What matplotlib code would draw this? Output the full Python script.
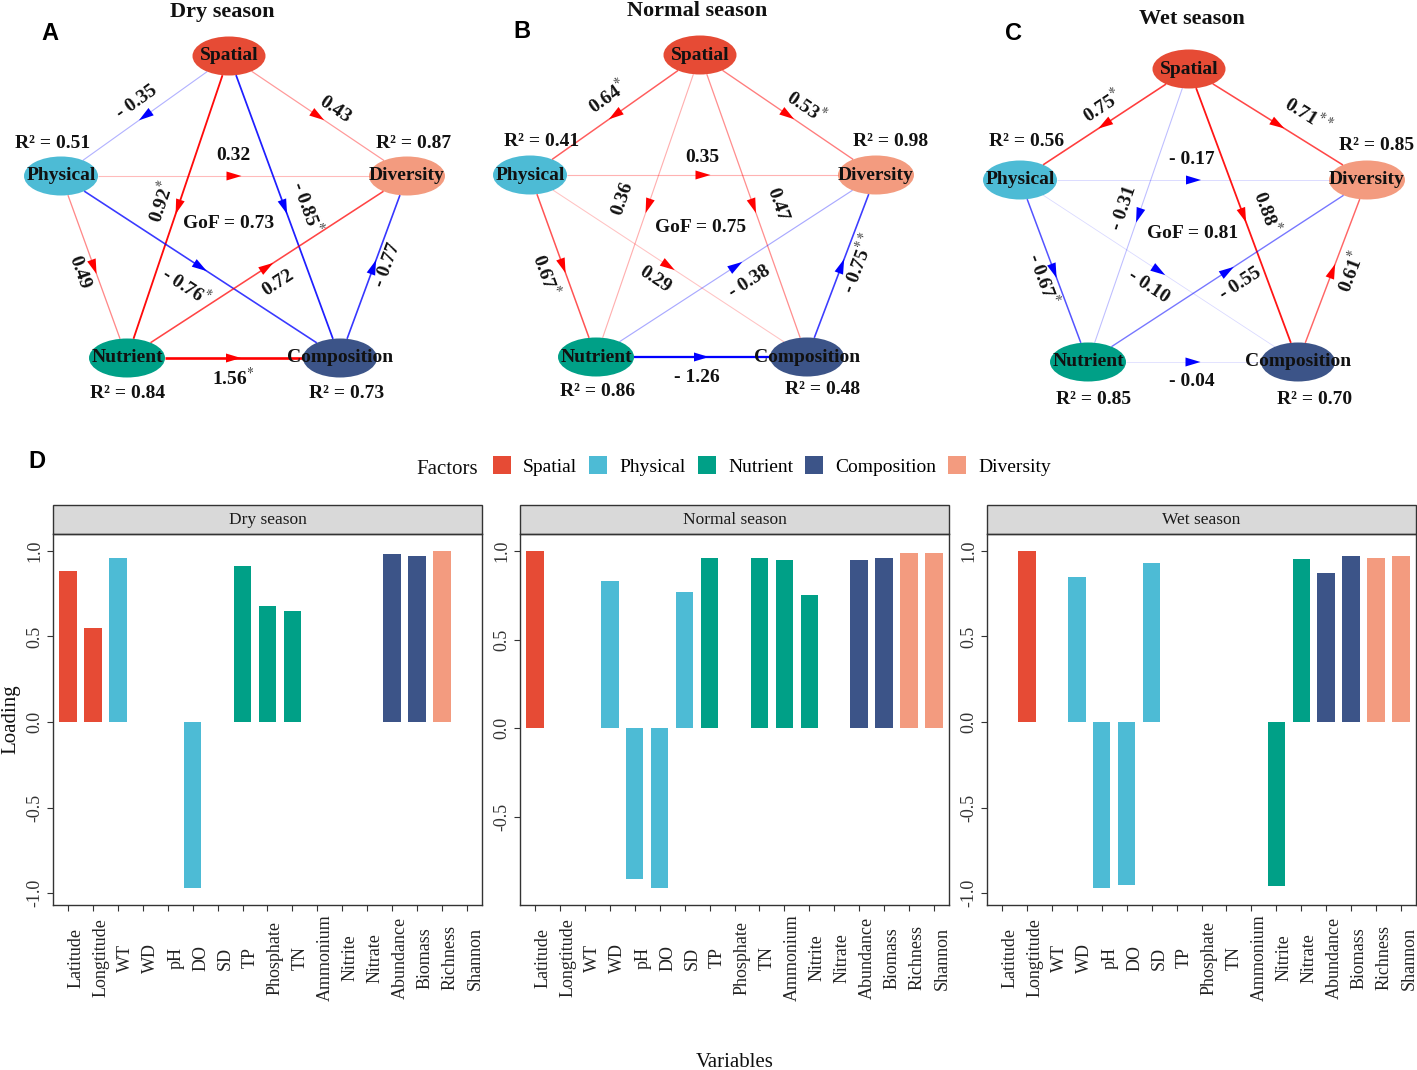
import numpy as np
import matplotlib
matplotlib.use('Agg')
import matplotlib.pyplot as plt
import matplotlib.transforms as mtransforms
from matplotlib.patches import Ellipse, Polygon, Rectangle, Patch
from matplotlib.ticker import MultipleLocator, FormatStrFormatter

plt.rcParams['font.family'] = 'Liberation Serif'
plt.rcParams['mathtext.fontset'] = 'stix'
plt.rcParams['axes.unicode_minus'] = False

W, H = 1417, 1070

# === Data ===
factor_names = ['Spatial', 'Physical', 'Nutrient', 'Composition', 'Diversity']
factor_colors = ['#E64B35', '#4DBBD5', '#00A087', '#3C5488', '#F39B7F']

variables = ['Latitude', 'Longtitude', 'WT', 'WD', 'pH', 'DO', 'SD', 'TP', 'Phosphate', 'TN',
             'Ammonium', 'Nitrite', 'Nitrate', 'Abundance', 'Biomass', 'Richness', 'Shannon']
var_factor = ['Spatial', 'Spatial', 'Physical', 'Physical', 'Physical', 'Physical', 'Physical',
              'Nutrient', 'Nutrient', 'Nutrient', 'Nutrient', 'Nutrient', 'Nutrient',
              'Composition', 'Composition', 'Diversity', 'Diversity']

nan = np.nan
dry_loading = [0.88, 0.55, 0.96, nan, nan, -0.97, nan, 0.91, 0.68, 0.65, nan, nan, nan, 0.98, 0.97, 1.00, nan]
normal_loading = [1.00, nan, nan, 0.83, -0.85, -0.90, 0.77, 0.96, nan, 0.96, 0.95, 0.75, nan, 0.95, 0.96, 0.99, 0.99]
wet_loading = [nan, 1.00, nan, 0.85, -0.97, -0.95, 0.93, nan, nan, nan, nan, -0.96, 0.95, 0.87, 0.97, 0.96, 0.97]

season_names = ['Dry season', 'Normal season', 'Wet season']

# path model (same edges in all seasons)
edges = [('Spatial', 'Physical'), ('Spatial', 'Diversity'), ('Physical', 'Diversity'),
         ('Spatial', 'Nutrient'), ('Spatial', 'Composition'), ('Physical', 'Nutrient'),
         ('Physical', 'Composition'), ('Nutrient', 'Diversity'), ('Composition', 'Diversity'),
         ('Nutrient', 'Composition')]
dry_coef = [-0.35, 0.43, 0.32, 0.92, -0.85, 0.49, -0.76, 0.72, -0.77, 1.56]
dry_sig = ['', '', '', '*', '*', '', '*', '', '', '*']
normal_coef = [0.64, 0.53, 0.35, 0.36, 0.47, 0.67, 0.29, -0.38, -0.75, -1.26]
normal_sig = ['*', '*', '', '', '', '*', '', '', '**', '']
wet_coef = [0.75, 0.71, -0.17, -0.31, 0.88, -0.67, -0.10, -0.55, 0.61, -0.04]
wet_sig = ['*', '**', '', '', '*', '*', '', '', '*', '']

r2_nodes = ['Physical', 'Diversity', 'Nutrient', 'Composition']
dry_r2 = [0.51, 0.87, 0.84, 0.73]
normal_r2 = [0.41, 0.98, 0.86, 0.48]
wet_r2 = [0.56, 0.85, 0.85, 0.70]
gof = [0.73, 0.75, 0.81]

# === Layout (pixel positions of the path diagrams) ===
node_w = {'Spatial': 73, 'Physical': 74, 'Diversity': 76, 'Nutrient': 76, 'Composition': 74}
node_h = 39
layouts = [
    dict(nodes={'Spatial': (229, 56), 'Physical': (61, 176), 'Diversity': (407, 176),
                'Nutrient': (127, 358), 'Composition': (340, 358)},
         labels=[(137, 102), (335, 110), (233, 156), (161, 202), (307, 207),
                 (79, 273), (186, 286), (278, 283), (388, 265), (233, 378)],
         r2=[(53, 143), (414, 143), (128, 394), (347, 393)],
         gof=(229, 223), title=(222, 12), letter=(50, 33), tag='A'),
    dict(nodes={'Spatial': (700, 55), 'Physical': (530, 175), 'Diversity': (876, 175),
                'Nutrient': (596, 357), 'Composition': (807, 357)},
         labels=[(608, 97), (806, 107), (702, 157), (623, 198), (777, 205),
                 (546, 274), (655, 280), (750, 282), (859, 263), (697, 377)],
         r2=[(542, 142), (891, 142), (598, 391), (823, 390)],
         gof=(701, 228), title=(697, 11), letter=(522, 32), tag='B'),
    dict(nodes={'Spatial': (1189, 69), 'Physical': (1020, 180), 'Diversity': (1367, 180),
                'Nutrient': (1088, 362), 'Composition': (1298, 362)},
         labels=[(1102, 106), (1308, 115), (1192, 159), (1124, 208), (1267, 211),
                 (1043, 279), (1149, 287), (1241, 284), (1351, 272), (1192, 381)],
         r2=[(1027, 141), (1377, 146), (1094, 400), (1315, 400)],
         gof=(1193, 234), title=(1192, 19), letter=(1014, 33), tag='C'),
]
coefs = [dry_coef, normal_coef, wet_coef]
sigs = [dry_sig, normal_sig, wet_sig]
r2s = [dry_r2, normal_r2, wet_r2]


def boundary(c, other, w, h):
    dx, dy = other[0] - c[0], other[1] - c[1]
    t = 1 / np.sqrt((dx / (w / 2)) ** 2 + (dy / (h / 2)) ** 2)
    return np.array([c[0] + t * dx, c[1] + t * dy])


fig = plt.figure(figsize=(W / 100, H / 100), dpi=100)
ax0 = fig.add_axes([0, 0, 1, 1])
ax0.set_xlim(0, W)
ax0.set_ylim(H, 0)
ax0.axis('off')

col_of = dict(zip(factor_names, factor_colors))

for k, lay in enumerate(layouts):
    nodes = lay['nodes']
    for name, (cx, cy) in nodes.items():
        ax0.add_patch(Ellipse((cx, cy), node_w[name], node_h, facecolor=col_of[name],
                              edgecolor='none', zorder=2))
        ax0.text(cx, cy, name, ha='center', va='center', fontsize=14, fontweight='bold',
                 color='#111111', zorder=5)

    for (a, b), c, s, lp in zip(edges, coefs[k], sigs[k], lay['labels']):
        ca, cb = np.array(nodes[a], float), np.array(nodes[b], float)
        p1 = boundary(ca, cb, node_w[a], node_h)
        p2 = boundary(cb, ca, node_w[b], node_h)
        col = '#FF0000' if c > 0 else '#0000FF'
        alpha = min(1.0, max(0.15, 1.15 * abs(c) - 0.1))
        ax0.plot([p1[0], p2[0]], [p1[1], p2[1]], color=col, alpha=alpha,
                 lw=0.5 + 0.9 * abs(c), solid_capstyle='butt', zorder=3)
        # arrow head at the middle
        u = (cb - ca) / np.linalg.norm(cb - ca)
        n = np.array([-u[1], u[0]])
        mid = (ca + cb) / 2
        L, Wd = 15, 9
        tip = mid + u * L / 2
        base = mid - u * L / 2
        ax0.add_patch(Polygon([tip, base + n * Wd / 2, base - n * Wd / 2], closed=True,
                              facecolor=col, edgecolor='none', zorder=4))
        # label
        ang = np.degrees(np.arctan2(-(cb[1] - ca[1]), cb[0] - ca[0]))
        if ang > 90:
            ang -= 180
        elif ang <= -90:
            ang += 180
        txt = f"- {abs(c):.2f}" if c < 0 else f"{c:.2f}"
        if s:
            txt += r"$^{" + s + "}$"
        ax0.text(lp[0], lp[1], txt, rotation=ang, rotation_mode='anchor', ha='center',
                 va='center', fontsize=14, fontweight='bold', color='#111111', zorder=6)

    for val, pos in zip(r2s[k], lay['r2']):
        ax0.text(pos[0], pos[1], f"R\u00b2 = {val:.2f}", ha='center', va='center',
                 fontsize=14, fontweight='bold', color='#111111')
    ax0.text(*lay['gof'], f"GoF = {gof[k]:.2f}", ha='center', va='center',
             fontsize=14, fontweight='bold', color='#111111')
    ax0.text(*lay['title'], season_names[k], ha='center', va='center',
             fontsize=16, fontweight='bold', color='#111111')
    ax0.text(*lay['letter'], lay['tag'], ha='center', va='center', fontsize=17,
             fontweight='bold', family='Liberation Sans', color='black')

# === Panel D: loadings ===
ax0.text(37, 462, 'D', ha='center', va='center', fontsize=17, fontweight='bold',
         family='Liberation Sans', color='black')
ax0.text(416, 467, 'Factors', ha='left', va='center_baseline', fontsize=15, color='#111111')
handles = [Patch(facecolor=c, edgecolor='none') for c in factor_colors]
fig.legend(handles, factor_names, loc='center left', bbox_to_anchor=(493 / W, 1 - 466 / H),
           ncol=5, frameon=False, fontsize=14, handlelength=0.93, handleheight=0.98,
           handletextpad=0.62, columnspacing=0.62, borderpad=0, borderaxespad=0)

ax0.text(11, 719, 'Loading', rotation=90, ha='center', va='center', fontsize=15, color='#111111')
ax0.text(735, 1067, 'Variables', ha='center', va='baseline', fontsize=15, color='#111111')

panel_px = [(53, 482), (520, 949), (987, 1416)]
top_px, bottom_px = 534, 905
strip_h = 29
x = np.arange(1, len(variables) + 1)
bar_cols = np.array([col_of[f] for f in var_factor])
lab_shift = mtransforms.ScaledTranslation(8 / 100, -53 / 100, fig.dpi_scale_trans)

for (l, r), name, vals in zip(panel_px, season_names, [dry_loading, normal_loading, wet_loading]):
    ax = fig.add_axes([l / W, 1 - bottom_px / H, (r - l) / W, (bottom_px - top_px) / H])
    v = np.array(vals, float)
    m = ~np.isnan(v)
    ax.bar(x[m], v[m], width=0.7, color=bar_cols[m], edgecolor='none')
    lo, hi = min(0, np.nanmin(v)), max(0, np.nanmax(v))
    pad = 0.05 * (hi - lo)
    ax.set_ylim(lo - pad, hi + pad)
    ax.set_xlim(0.4, len(variables) + 0.6)
    ax.set_xticks(x)
    ax.set_xticklabels([])
    blend = mtransforms.blended_transform_factory(ax.transData, ax.transAxes) + lab_shift
    for xi, var in zip(x, variables):
        ax.text(xi, 0, var, transform=blend, rotation=90, ha='center', va='center',
                fontsize=13, color='#222222', clip_on=False)
    ax.yaxis.set_major_locator(MultipleLocator(0.5))
    ax.yaxis.set_major_formatter(FormatStrFormatter('%.1f'))
    ax.tick_params(axis='y', labelsize=13, labelrotation=90, length=4, width=0.8,
                   color='#333333', labelcolor='#333333', pad=3)
    ax.tick_params(axis='x', length=4, width=0.8, color='#333333')
    plt.setp(ax.get_yticklabels(), va='center')
    for sp in ax.spines.values():
        sp.set_color('#333333')
        sp.set_linewidth(1.0)
    hfrac = strip_h / (bottom_px - top_px)
    ax.add_patch(Rectangle((0, 1), 1, hfrac, transform=ax.transAxes, clip_on=False,
                           facecolor='#D9D9D9', edgecolor='#333333', lw=1.0))
    ax.text(0.5, 1 + hfrac / 2, name, transform=ax.transAxes, ha='center', va='center',
            fontsize=12.5, color='#1A1A1A')

fig.savefig('out.png', dpi=100)
